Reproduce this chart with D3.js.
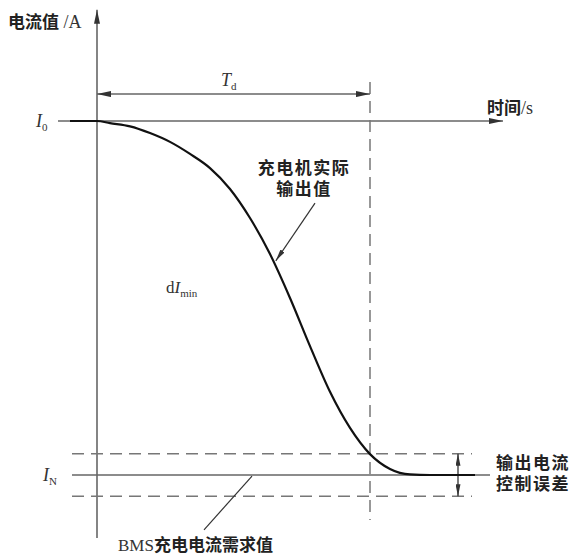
<!DOCTYPE html>
<html>
<head>
<meta charset="utf-8">
<script src="https://cdn.jsdelivr.net/npm/d3@7"></script>
<style>
  body { margin: 0; background: #fff; }
  svg { display: block; }
  .cjk { font-family: "Noto Sans CJK SC", sans-serif; font-weight: 700; fill: #222; }
  .ser { font-family: "Liberation Serif", "DejaVu Serif", serif; fill: #333; }
</style>
</head>
<body>
<div id="chart"></div>
<script>
const width = 573, height = 556;

// charger output current (relative units), time in relative units
const curveT = [-6.75, 0, 3.25, 8.25, 13.25, 18.25, 23.25, 28.25, 33.25, 38.25, 43.25, 48.25, 53.25, 58.25, 63.25, 68.25, 73.25, 78.25, 83.25, 94.5];
const curveI = [100, 100, 99.4, 98.5, 96.6, 94.1, 90.7, 86.7, 80.8, 72.6, 62.4, 50, 36.4, 23.5, 13.3, 5.9, 1.7, 0.15, 0, 0];
const I0 = 100, IN = 0, errBand = 6, Td = 68.25;
const tRange = [-9.75, 101.5];   // time axis extent
const iRange = [-17.8, 131.4];   // current axis extent

const x = d3.scaleLinear().domain([0, 100]).range([97, 497]);
const y = d3.scaleLinear().domain([0, 100]).range([475, 121]);

const svg = d3.select("#chart").append("svg")
  .attr("width", width).attr("height", height);

const defs = svg.append("defs");
function marker(id, len, wid, color) {
  defs.append("marker").attr("id", id)
    .attr("viewBox", `0 0 ${len} ${wid}`)
    .attr("refX", len).attr("refY", wid / 2)
    .attr("markerWidth", len).attr("markerHeight", wid)
    .attr("markerUnits", "userSpaceOnUse")
    .attr("orient", "auto-start-reverse")
    .append("path").attr("d", `M0,0L${len},${wid / 2}L0,${wid}Z`).attr("fill", color);
}
marker("arr", 14, 6, "#333");
marker("arrS", 12, 5, "#333");

const grey = "#666";

// y axis
svg.append("line")
  .attr("x1", x(0)).attr("x2", x(0))
  .attr("y1", y(iRange[0])).attr("y2", y(iRange[1]))
  .attr("stroke", grey).attr("stroke-width", 1.6)
  .attr("marker-end", "url(#arr)");

// time axis at I0
svg.append("line")
  .attr("x1", x(tRange[0])).attr("x2", x(tRange[1]))
  .attr("y1", y(I0)).attr("y2", y(I0))
  .attr("stroke", grey).attr("stroke-width", 1.6)
  .attr("marker-end", "url(#arr)");

// BMS demand line IN
svg.append("line")
  .attr("x1", x(-6.25)).attr("x2", x(98.25))
  .attr("y1", y(IN)).attr("y2", y(IN))
  .attr("stroke", grey).attr("stroke-width", 1.5);

// error band dashed lines
[IN + errBand, IN - errBand].forEach(v => {
  svg.append("line")
    .attr("x1", x(-6.25)).attr("x2", x(93.75))
    .attr("y1", y(v)).attr("y2", y(v))
    .attr("stroke", "#777").attr("stroke-width", 1.5)
    .attr("stroke-dasharray", "12,7");
});

// Td vertical dashed
svg.append("line")
  .attr("x1", x(Td)).attr("x2", x(Td))
  .attr("y1", y(111)).attr("y2", y(-12.7))
  .attr("stroke", "#777").attr("stroke-width", 1.5)
  .attr("stroke-dasharray", "12,7");

// Td double arrow
svg.append("line")
  .attr("x1", x(0)).attr("x2", x(Td))
  .attr("y1", y(107.6)).attr("y2", y(107.6))
  .attr("stroke", grey).attr("stroke-width", 1.5)
  .attr("marker-start", "url(#arr)").attr("marker-end", "url(#arr)");

// error double arrow
svg.append("line")
  .attr("x1", x(90.25)).attr("x2", x(90.25))
  .attr("y1", y(IN + errBand)).attr("y2", y(IN - errBand))
  .attr("stroke", "#333").attr("stroke-width", 1.3)
  .attr("marker-start", "url(#arrS)").attr("marker-end", "url(#arrS)");

// charger output curve
const pts = curveT.map((t, i) => [t, curveI[i]]);
svg.append("path")
  .datum(pts)
  .attr("d", d3.line().x(d => x(d[0])).y(d => y(d[1])).curve(d3.curveMonotoneX))
  .attr("fill", "none").attr("stroke", "#111").attr("stroke-width", 2.2);

// leader: curve label
svg.append("line")
  .attr("x1", x(54.5)).attr("y1", y(76.8))
  .attr("x2", x(44.7)).attr("y2", y(60.5))
  .attr("stroke", "#333").attr("stroke-width", 1.2)
  .attr("marker-end", "url(#arrS)");

// leader: BMS label
svg.append("line")
  .attr("x1", x(38.75)).attr("y1", y(IN - 0.3))
  .attr("x2", x(26.75)).attr("y2", y(-15.5))
  .attr("stroke", "#333").attr("stroke-width", 1.2);

// texts
const yl = svg.append("text").attr("x", 8).attr("y", 28);
yl.append("tspan").attr("class", "cjk").style("font-size", "17px").text("电流值");
yl.append("tspan").attr("class", "ser").style("font-size", "18px").text(" /A");

const tl = svg.append("text").attr("x", 487).attr("y", 114);
tl.append("tspan").attr("class", "cjk").style("font-size", "17px").text("时间");
tl.append("tspan").attr("class", "ser").style("font-size", "18px").text("/s");

function sub(xp, yp, main, s, italic) {
  const t = svg.append("text").attr("class", "ser").attr("x", xp).attr("y", yp).style("font-size", "18px");
  t.append("tspan").style("font-style", italic ? "italic" : "normal").text(main);
  t.append("tspan").attr("dy", 4).style("font-size", "11px").text(s);
  return t;
}
sub(36, y(I0) + 6, "I", "0", true);
sub(43, y(IN) + 6, "I", "N", true);
sub(221, 86, "T", "d", true);

const dt = svg.append("text").attr("class", "ser").attr("x", 166).attr("y", 293).style("font-size", "17px");
dt.append("tspan").text("d");
dt.append("tspan").style("font-style", "italic").text("I");
dt.append("tspan").attr("dy", 4).style("font-size", "11px").text("min");

// two-line labels
function twoLine(xp, yp, lines, anchor) {
  const t = svg.append("text").attr("class", "cjk").attr("text-anchor", anchor)
    .style("font-size", "17px").style("letter-spacing", "1.5px");
  lines.forEach((s, i) => {
    t.append("tspan").attr("x", xp).attr("y", yp + i * 21).text(s);
  });
}
twoLine(304, 174, ["充电机实际", "输出值"], "middle");
twoLine(496, 469, ["输出电流", "控制误差"], "start");

const bl = svg.append("text").attr("x", 118).attr("y", 551);
bl.append("tspan").attr("class", "ser").style("font-size", "17px").text("BMS");
bl.append("tspan").attr("class", "cjk").style("font-size", "17px").text("充电电流需求值");
</script>
</body>
</html>
